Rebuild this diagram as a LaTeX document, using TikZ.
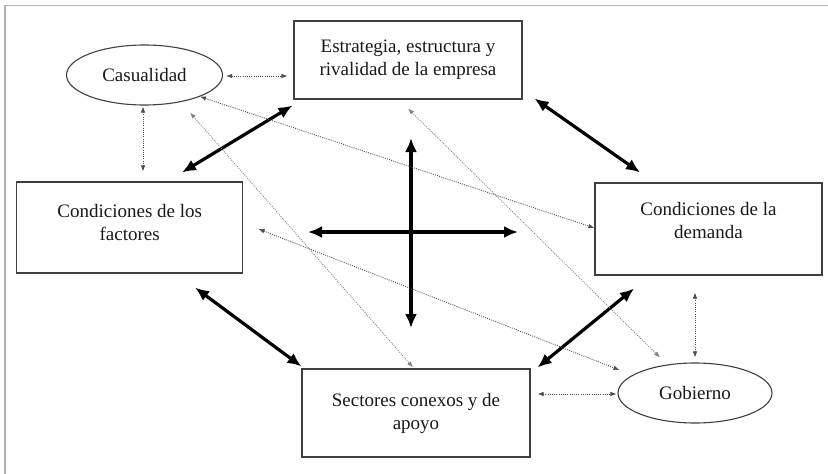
\documentclass[tikz,border=0pt]{standalone}
\usepackage{fontspec}
\setmainfont{Liberation Serif}
\usetikzlibrary{shapes.geometric,arrows.meta}
\newcommand{\xdepth}[1]{\rule[-#1]{0pt}{#1}}
\begin{document}
\begin{tikzpicture}[x=1pt,y=-1pt,
  box/.style={draw=black!75, line width=1.1pt, rectangle, align=center, inner sep=0pt,
    font=\fontsize{19}{23}\selectfont, text=black!90},
  oval/.style={draw=black!75, line width=1.1pt, ellipse, inner sep=0pt,
    font=\fontsize{19}{23}\selectfont, text=black!90},
  bigarrow/.style={line width=3.2pt, {Latex[length=14pt,width=12pt]}-{Latex[length=14pt,width=12pt]}},
  dotarrow/.style={black!70, line width=0.8pt, dash pattern=on 1pt off 1.2pt,
    {Latex[length=6pt,width=4.5pt]}-{Latex[length=6pt,width=4.5pt]}},
  thinarrow/.style={dotarrow, black!50}
]
\useasboundingbox (0,0) rectangle (828,474);
\fill[white] (0,0) rectangle (828,474);
\draw[black!30, line width=1.5pt] (5,474) -- (5,5.5) -- (828,5.5);

% nodes
\node[box, minimum width=228pt, minimum height=78pt] (est) at (408,60)
  {Estrategia, estructura y\\rivalidad de la empresa};
\node[box, minimum width=226pt, minimum height=91pt] (fac) at (129.7,227.5)
  {Condiciones de los\\factores\xdepth{11pt}};
\node[box, minimum width=227pt, minimum height=92pt] (dem) at (708.5,229)
  {Condiciones de la\\demanda\xdepth{17pt}};
\node[box, minimum width=228pt, minimum height=88pt] (sec) at (416,413)
  {Sectores conexos y de\\apoyo};
\node[oval, minimum width=156pt, minimum height=60pt] (cas) at (144.5,75) {Casualidad};
\node[oval, minimum width=154pt, minimum height=60pt] (gob) at (695,393) {Gobierno};

% central cross
\coordinate (vt) at (411,138);
\coordinate (vb) at (411,328);
\coordinate (hl) at (308,232);
\coordinate (hr) at (518,232);
\draw[bigarrow] (vt) -- (vb);
\draw[bigarrow] (hl) -- (hr);

% thick connectors
\draw[bigarrow] ([xshift=52.3pt,yshift=9pt]fac.north) -- ([xshift=-1pt,yshift=-6pt]est.south west);
\draw[bigarrow] ([xshift=12pt,yshift=1pt]est.south east) -- ([xshift=-68.5pt,yshift=10pt]dem.north);
\draw[bigarrow] ([xshift=65.3pt,yshift=-14pt]fac.south) -- ([yshift=2pt]sec.north west);
\draw[bigarrow] ([xshift=-74.5pt,yshift=-13pt]dem.south) -- ([xshift=7pt,yshift=1pt]sec.north east);

% dotted connectors
\draw[dotarrow] ([xshift=3pt,yshift=-1pt]cas.east) -- ([xshift=-6pt,yshift=-16pt]est.west);
\draw[dotarrow] ([xshift=-1.5pt,yshift=-1pt]cas.south) -- ([xshift=13.3pt,yshift=10pt]fac.north);
\draw[dotarrow] (cas.south east) -- ([yshift=1pt]dem.west);
\draw[thinarrow] ([xshift=45.5pt,yshift=-7pt]cas.south) -- ([xshift=-3pt,yshift=1pt]sec.north);
\draw[thinarrow] ([yshift=-9pt]est.south) -- ([xshift=-35pt,yshift=5pt]gob.north);
\draw[dotarrow] ([xshift=15.3pt,yshift=-1.5pt]fac.east) -- ([xshift=2pt,yshift=23pt]gob.west);
\draw[dotarrow] ([xshift=-13.5pt,yshift=-17pt]dem.south) -- ([yshift=5pt]gob.north);
\draw[dotarrow] ([xshift=7pt,yshift=19pt]sec.east) -- ([xshift=-1pt,yshift=-1pt]gob.west);
\end{tikzpicture}
\end{document}
